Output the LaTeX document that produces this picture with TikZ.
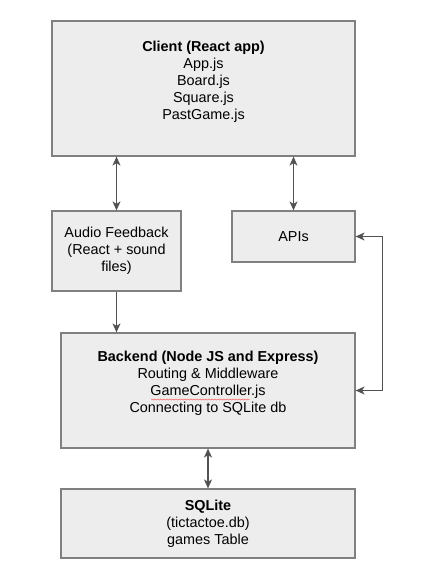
\documentclass[tikz,border=0pt]{standalone}
\usepackage{fontspec}
\setmainfont{Liberation Sans}
\usetikzlibrary{arrows.meta,decorations.pathmorphing}
\tikzset {>={Stealth[length=9pt,width=8pt,inset=2.5pt]}}
\tikzset{box/.style={draw=black!50,fill=black!7,line width=1.2pt,align=center,
    inner sep=0pt,font=\fontsize{14.4}{17}\selectfont},
  link/.style={<->,draw=black!68,line width=1.1pt}}

\begin{document}
\begin{tikzpicture}[x=1pt,y=-1pt]
\useasboundingbox (0,0) rectangle (433,576);
\node[box,minimum width=303,minimum height=135] (client) at (203.5,88.5)
  {\textbf{Client (React app)}\\App.js\\Board.js\\Square.js\\PastGame.js\\~};
\node[box,minimum width=129,minimum height=80] (audio) at (116.5,251)
  {Audio Feedback\\(React + sound\\files)};
\node[box,minimum width=123,minimum height=51] (apis) at (293.5,236.5) {APIs};
\node[box,minimum width=294,minimum height=115] (backend) at (208,390.5)
  {\textbf{Backend (Node JS and Express)}\\Routing \& Middleware\\GameController.js\\Connecting to SQLite db\\~};
\node[box,minimum width=294,minimum height=69] (sqlite) at (208,523.5)
  {\textbf{SQLite}\\(tictactoe.db)\\games Table};
% connectors
\draw[link] (client.south -| audio) -- (audio);
\draw[link] (client.south -| apis) -- (apis);
\draw[link,<-] (backend.north -| audio) -- (audio);
\draw[link] (apis.east) -- ++(27,0) |- (backend.east);
\draw[link] (backend) -- (sqlite);
% spell check mark
\draw[red!70,line width=.4pt,decoration={snake,amplitude=.6pt,segment length=3pt},decorate]
  (151,399.5) -- (250,399.5);
\end{tikzpicture}
\end{document}
